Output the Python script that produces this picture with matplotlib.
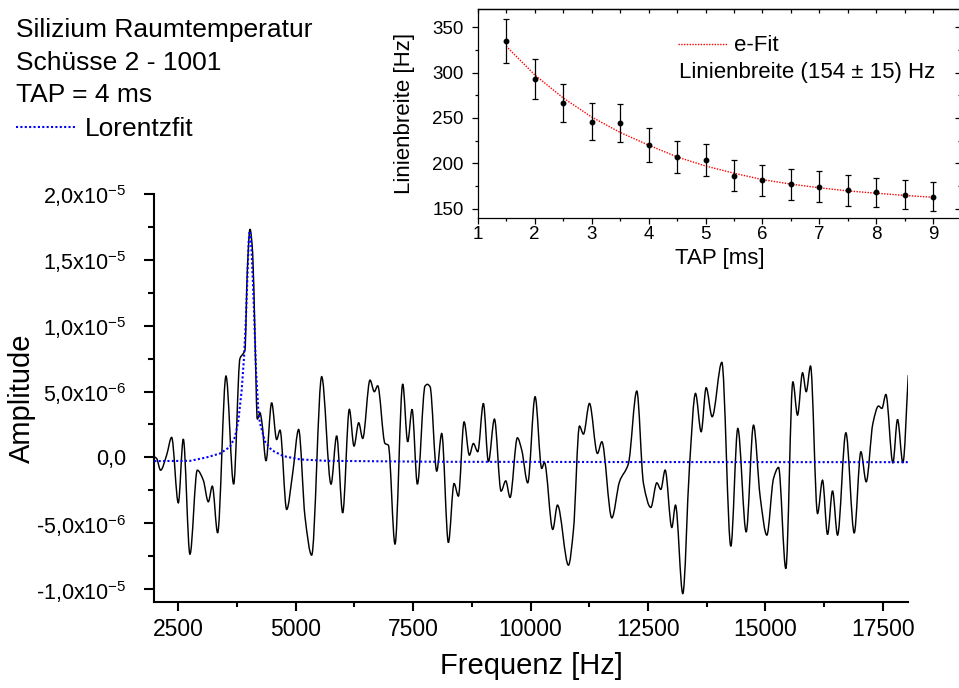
import matplotlib
matplotlib.use("Agg")
import matplotlib.pyplot as plt
from matplotlib.lines import Line2D
from matplotlib.path import Path
from matplotlib.patches import PathPatch
from matplotlib.ticker import FixedLocator, MultipleLocator

plt.rcParams['font.family'] = ['Liberation Sans', 'DejaVu Sans']
plt.rcParams['mathtext.fontset'] = 'custom'
plt.rcParams['mathtext.rm'] = 'Liberation Sans'
plt.rcParams['mathtext.it'] = 'Liberation Sans:italic'
plt.rcParams['mathtext.bf'] = 'Liberation Sans:bold'

# ---------------- data: measured spectrum (amplitude in 1e-6) ----------------
freq = [1990, 2039, 2124, 2252, 2359, 2501, 2607, 2749, 2905, 3033, 3140, 3225,
        3338, 3516, 3679, 3814, 3885, 3920, 3970, 4027, 4084, 4133, 4183, 4240,
        4275, 4368, 4488, 4595, 4666, 4808, 4935, 5063, 5198, 5340, 5553, 5752,
        5872, 6000, 6142, 6241, 6341, 6426, 6582, 6674, 6745, 6901, 6972, 7114,
        7278, 7384, 7477, 7590, 7753, 7803, 7860, 8002, 8108, 8250, 8371, 8463,
        8584, 8697, 8782, 8875, 8995, 9102, 9230, 9372, 9471, 9563, 9719, 9812,
        9939, 10096, 10237, 10294, 10472, 10572, 10806, 10912, 11040, 11125,
        11253, 11423, 11516, 11729, 11892, 12083, 12261, 12403, 12559, 12687,
        12772, 12864, 13006, 13084, 13240, 13382, 13510, 13631, 13737, 13865,
        14071, 14262, 14411, 14589, 14745, 14887, 15029, 15171, 15278, 15433,
        15583, 15682, 15789, 15867, 15959, 16108, 16214, 16321, 16427, 16534,
        16711, 16889, 17031, 17144, 17286, 17407, 17478, 17563, 17712, 17811,
        17925, 18040]
amp = [0.05, -0.08, -0.97, 0.17, 1.52, -3.45, 1.39, -7.35, -0.97, -1.73, -3.37,
       -2.18, -5.73, 6.18, -2.03, 7.52, 7.9, 8.15, 14.2, 17.33, 15.5, 9.16, 2.9,
       3.39, 2.83, -0.26, 4.15, 1.36, 2.07, -3.95, -1.22, 2.12, -4.51, -7.42,
       6.13, -2.03, 1.64, -4.21, 3.65, 0.86, 2.63, 1.44, 5.87, 4.99, 5.44, 1.06,
       0.93, -6.59, 5.57, 1.19, 3.65, -2.03, 5.42, 5.55, 5.37, -1.04, 1.82,
       -6.46, -1.98, -2.94, 2.71, 0.17, 1.06, 0.43, 4.10, -0.33, 2.91, -2.56,
       -1.78, -3.04, 1.49, 0.55, -1.93, 4.61, -0.84, -0.38, -5.47, -3.62, -8.18,
       -5.52, 2.38, 1.77, 4.10, 0.30, 1.19, -4.59, -1.85, -0.46, 5.04, -1.98,
       -3.80, -1.93, -2.43, -0.96, -5.32, -3.62, -10.34, -0.71, 4.86, 1.95,
       5.29, 3.09, 7.22, -6.74, 2.20, -5.65, 2.45, -2.99, -5.90, -1.60, -0.76,
       -8.44, 5.75, 3.21, 6.43, 4.99, 6.94, -4.26, -1.73, -5.85, -2.54, -5.90,
       1.87, -5.73, 0.43, -1.85, 2.58, 3.90, 3.72, 4.78, -0.41, 2.88, -0.41,
       6.25]

# Lorentz fit (amplitude in 1e-6)
lor_freq = [1990, 2750, 3100, 3390, 3600, 3710, 3780, 3850, 3900, 3940, 3970,
            4000, 4020, 4045, 4063, 4090, 4112, 4155, 4204, 4240, 4346, 4488,
            4737, 5091, 5660, 8000, 12000, 18040]
lor_amp = [-0.28, -0.26, 0.0, 0.3, 0.8, 1.57, 2.83, 5.1, 7.6, 10.5, 13.5,
           16.5, 17.2, 16.6, 15.5, 13.2, 11.2, 6.6, 3.6, 2.6, 1.2, 0.55, 0.1,
           -0.15, -0.26, -0.33, -0.35, -0.36]

x_ticks = [2500, 5000, 7500, 10000, 12500, 15000, 17500]
y_ticks = [-10, -5, 0, 5, 10, 15, 20]
y_ticklabels = [r'-1,0x10$^{-5}$', r'-5,0x10$^{-6}$', '0,0', r'5,0x10$^{-6}$',
                r'1,0x10$^{-5}$', r'1,5x10$^{-5}$', r'2,0x10$^{-5}$']

# ---------------- data: inset (linewidth vs TAP) ----------------
tap = [1.5, 2.0, 2.5, 3.0, 3.5, 4.0, 4.5, 5.0, 5.5, 6.0, 6.5, 7.0, 7.5, 8.0, 8.5, 9.0]
width = [335, 293, 266, 246, 244, 220, 206.5, 203.5, 186.5, 181, 177, 174, 170, 168, 165.5, 163.3]
width_err = [24, 22, 21, 20, 21, 19, 17.5, 18, 17, 17, 17, 17, 17, 16, 16, 16]
fit_tap = [1.5, 2.0, 2.5, 3.0, 3.5, 4.0, 4.5, 5.0, 5.5, 6.0, 6.5, 7.0, 7.5, 8.0, 8.5, 9.0]
fit_width = [329, 297.5, 272, 251, 234, 220, 207, 197, 189, 182, 177, 173, 169.5, 167, 164.5, 162.5]


def smooth_path(xs, ys):
    """Monotone cubic (spline-connect) drawing path through the given points."""
    n = len(xs)
    h = [xs[i + 1] - xs[i] for i in range(n - 1)]
    d = [(ys[i + 1] - ys[i]) / h[i] for i in range(n - 1)]
    m = [0.0] * n
    m[0], m[-1] = d[0], d[-1]
    for i in range(1, n - 1):
        if d[i - 1] * d[i] <= 0:
            m[i] = 0.0
        else:
            w1 = 2 * h[i] + h[i - 1]
            w2 = h[i] + 2 * h[i - 1]
            m[i] = (w1 + w2) / (w1 / d[i - 1] + w2 / d[i])
    verts = [(xs[0], ys[0])]
    codes = [Path.MOVETO]
    for i in range(n - 1):
        verts += [(xs[i] + h[i] / 3, ys[i] + m[i] * h[i] / 3),
                  (xs[i + 1] - h[i] / 3, ys[i + 1] - m[i + 1] * h[i] / 3),
                  (xs[i + 1], ys[i + 1])]
        codes += [Path.CURVE4] * 3
    return Path(verts, codes)


# ---------------- figure ----------------
fig = plt.figure(figsize=(9.59, 6.88), dpi=100)
W, H = 959.0, 688.0

ax = fig.add_axes([154.3 / W, 1 - 602.3 / H, (908.3 - 154.3) / W, (602.3 - 194.0) / H])
ax.add_patch(PathPatch(smooth_path(freq, amp), facecolor='none', edgecolor='black',
                       lw=1.05, zorder=2))
ax.plot(lor_freq, lor_amp, color='#0000ff', lw=1.5, ls=(0, (1, 1.1)), zorder=3)
ax.set_xlim(1990, 18040)
ax.set_ylim(-11, 20)
for s in ('top', 'right'):
    ax.spines[s].set_visible(False)
for s in ('left', 'bottom'):
    ax.spines[s].set_linewidth(1.5)
ax.xaxis.set_major_locator(FixedLocator(x_ticks))
ax.xaxis.set_minor_locator(MultipleLocator(1250))
ax.yaxis.set_major_locator(FixedLocator(y_ticks))
ax.yaxis.set_minor_locator(MultipleLocator(2.5))
ax.set_yticklabels(y_ticklabels)
ax.tick_params(axis='x', which='major', direction='out', length=6.5, width=1.5, labelsize=16.5, pad=5)
ax.tick_params(axis='x', which='minor', direction='out', length=3.6, width=1.5)
ax.tick_params(axis='y', which='major', direction='out', length=7.5, width=1.5, labelsize=15.5, pad=12.5)
ax.tick_params(axis='y', which='minor', direction='out', length=4, width=1.5)
ax.set_xlabel('Frequenz [Hz]', fontsize=21, labelpad=8)
ax.set_ylabel('Amplitude', fontsize=21, labelpad=0)

# top-left annotation
fig.text(16.0 / W, 1 - 36.5 / H, 'Silizium Raumtemperatur', fontsize=19, va='baseline', ha='left')
fig.text(16.0 / W, 1 - 69.5 / H, 'Schüsse 2 - 1001', fontsize=19, va='baseline', ha='left')
fig.text(16.0 / W, 1 - 102.5 / H, 'TAP = 4 ms', fontsize=19, va='baseline', ha='left')
fig.text(85.0 / W, 1 - 136.5 / H, 'Lorentzfit', fontsize=19, va='baseline', ha='left')
fig.add_artist(Line2D([16 / W, 75 / W], [1 - 127 / H, 1 - 127 / H], transform=fig.transFigure,
                      color='#0000ff', lw=1.5, ls=(0, (1, 1.1))))

# ---------------- inset ----------------
x0, x1, yb, yt = 477.7, 961.8, 217.7, 9.0
axi = fig.add_axes([x0 / W, 1 - yb / H, (x1 - x0) / W, (yb - yt) / H])
axi.set_zorder(5)
axi.plot(fit_tap, fit_width, color='#ff0000', lw=1.0, ls=(0, (1, 1)), zorder=2)
axi.errorbar(tap, width, yerr=width_err, fmt='o', color='black', ms=3.2,
             ecolor='black', elinewidth=0.9, capsize=2.5, capthick=0.9, zorder=3)
axi.set_xlim(1, 9.5)
axi.set_ylim(140, 370)
for s in axi.spines.values():
    s.set_linewidth(0.9)
axi.xaxis.set_major_locator(MultipleLocator(1))
axi.xaxis.set_minor_locator(MultipleLocator(0.5))
axi.yaxis.set_major_locator(MultipleLocator(50))
axi.yaxis.set_minor_locator(MultipleLocator(25))
axi.tick_params(which='major', direction='out', length=4.2, width=0.9, labelsize=13.5, pad=1.5)
axi.tick_params(axis='y', which='major', pad=6)
axi.tick_params(which='minor', direction='out', length=2.2, width=0.9)
axi.set_xlabel('TAP [ms]', fontsize=16, labelpad=4)
axi.set_ylabel('Linienbreite [Hz]', fontsize=16, labelpad=12)

sec_x = axi.secondary_xaxis('top')
sec_x.xaxis.set_major_locator(MultipleLocator(0.5))
sec_x.tick_params(which='major', direction='in', length=3, width=0.9, labeltop=False)
sec_x.tick_params(which='minor', length=0)
sec_x.spines['top'].set_linewidth(0.9)
sec_y = axi.secondary_yaxis('right')
sec_y.yaxis.set_major_locator(MultipleLocator(50))
sec_y.yaxis.set_minor_locator(MultipleLocator(25))
sec_y.tick_params(which='major', direction='in', length=5, width=0.9, labelright=False)
sec_y.tick_params(which='minor', direction='in', length=3, width=0.9)

# inset legend
axi.add_line(Line2D([0.414, 0.517], [0.832, 0.832], transform=axi.transAxes,
                    color='#ff0000', lw=1.0, ls=(0, (1, 1))))
axi.text(0.530, 0.827, 'e-Fit', transform=axi.transAxes, fontsize=16, va='center', ha='left')
axi.text(0.415, 0.698, 'Linienbreite (154 ± 15) Hz', transform=axi.transAxes,
         fontsize=16, va='center', ha='left')

fig.savefig('out.png', dpi=100)
